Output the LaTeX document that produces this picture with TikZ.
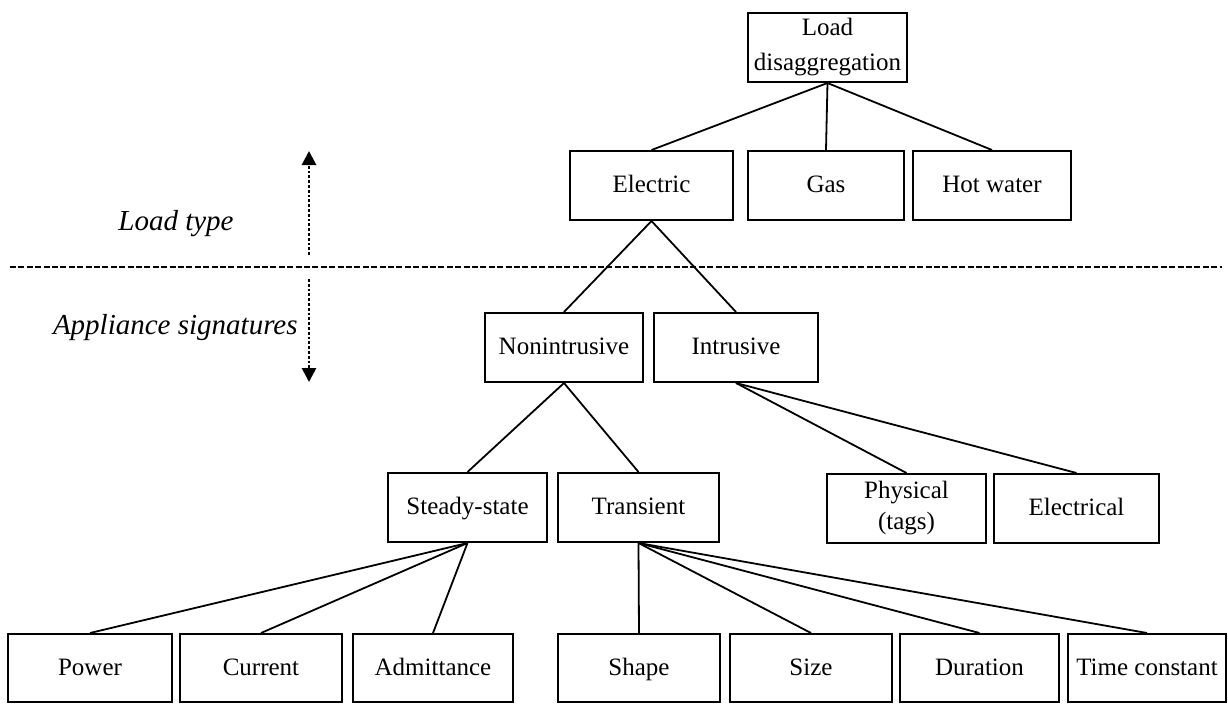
\documentclass[tikz,border=0pt]{standalone}
\usepackage{fontspec}
\setmainfont{Liberation Serif}
\usetikzlibrary{arrows.meta}

\begin{document}
\begin{tikzpicture}[
x=0.5pt, y=-0.5pt,
font=\fontsize{12.5}{14.5}\selectfont,
box/.style={draw, line width=1pt, minimum height=34.5pt, inner sep=2pt, align=center,
  text height=0.9em, text depth=0.2em},
twoline/.style={text height={}, text depth={}},
branch/.style={line width=0.9pt},
levelarrow/.style={densely dotted, line width=1.4pt, -{Triangle[width=7pt,length=7pt]}},
divider/.style={line width=0.9pt, dash pattern=on 3pt off 1.2pt},
level/.style={font=\fontsize{14.5}{16}\selectfont\itshape, inner sep=0pt}
]
    % page frame
    \useasboundingbox (0,0) rectangle (1228,703);

    % top levels
    \node[box, twoline, minimum width=79.5pt] (load) at (827.5,47.5) {Load\\[3pt]disaggregation};
    \node[box, minimum width=81.5pt] (elec) at (651.5,185.5) {Electric};
    \node[box, minimum width=78pt] (gas) at (826,185.5) {Gas};
    \node[box, minimum width=79pt] (hot) at (992,185.5) {Hot water};

    \node[box, minimum width=79pt] (nonin) at (564,347.5) {Nonintrusive};
    \node[box, minimum width=82pt] (intru) at (736,347.5) {Intrusive};

    \node[box, minimum width=79.5pt] (steady) at (467.5,507.5) {Steady-state};
    \node[box, minimum width=80.5pt] (trans) at (638.5,507.5) {Transient};
    \node[box, twoline, minimum width=79.5pt] (phys) at (906.5,508.5) {Physical\\[1pt](tags)};
    \node[box, minimum width=82.5pt] (elecl) at (1076.5,508.5) {Electrical};

    % bottom row
    \node[box, minimum width=82pt, minimum height=34pt] (power) at (90,668) {Power};
    \node[box, minimum width=81pt, minimum height=34pt] (current) at (261,668) {Current};
    \node[box, minimum width=80pt, minimum height=34pt] (admit) at (433,668) {Admittance};
    \node[box, minimum width=81pt, minimum height=34pt] (shape) at (639,668) {Shape};
    \node[box, minimum width=81pt, minimum height=34pt] (size) at (811,668) {Size};
    \node[box, minimum width=79.5pt, minimum height=34pt] (dur) at (979.5,668) {Duration};
    \node[box, minimum width=79pt, minimum height=34pt] (tconst) at (1147,668) {Time constant};

    % branches
    \foreach \c in {elec,gas,hot}
        \draw[branch] (load.south) -- (\c.north);
    \foreach \c in {nonin,intru}
        \draw[branch] (elec.south) -- (\c.north);
    \foreach \c in {steady,trans}
        \draw[branch] (nonin.south) -- (\c.north);
    \foreach \c in {phys,elecl}
        \draw[branch] (intru.south) -- (\c.north);
    \foreach \c in {power,current,admit}
        \draw[branch] (steady.south) -- (\c.north);
    \foreach \c in {shape,size,dur,tconst}
        \draw[branch] (trans.south) -- (\c.north);

    % level divider
    \draw
    (10,267) coordinate (divl)
    (1222,267) coordinate (divr)
    (309,255) coordinate (upfrom)
    (309,151) coordinate (upto)
    (309,279) coordinate (dnfrom)
    (309,382) coordinate (dnto);

    \draw[divider] (divl) -- (divr);
    \draw[levelarrow] (upfrom) -- (upto);
    \draw[levelarrow] (dnfrom) -- (dnto);

    \node[level] (loadtype) at (176,224) {Load type};
    \node[level, anchor=east] (appsig) at (298,328) {Appliance signatures};

\end{tikzpicture}
\end{document}
